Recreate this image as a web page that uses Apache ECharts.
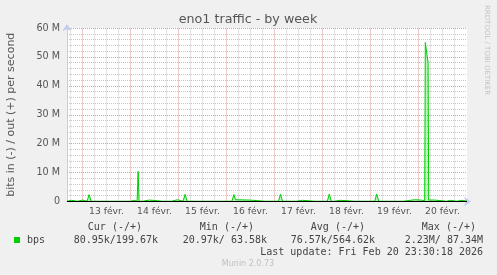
<!DOCTYPE html>
<html>
<head>
<meta charset="utf-8">
<script src="https://cdn.jsdelivr.net/npm/echarts@6/dist/echarts.min.js"></script>
<style>
html,body{margin:0;padding:0;background:#f0f0f0;}
#c{width:497px;height:275px;}
</style>
</head>
<body>
<div id="c"></div>
<script>
// ---- data (hours relative to 13 févr. 00:00, values in Mbit/s) ----
const hours = [-7.75,-7.0,-5.5,-5.0,-2.5,-2.0,0.0,0.5,2.3,3.3,4.3,7.0,8.0,9.0,12,13,14,18,19,20.5,24,26,26.5,27.3,27.8,28.3,30,33.5,34.5,40,44.5,45,47.5,48,50.3,51.3,52.3,57,58,59,66,67,68,74.7,75.7,76.5,83.5,84,91,91.5,92,98,99,100,107,107.5,110,110.5,116,117,118,122.4,123.4,124.4,126,126.5,129,129.5,136,137,138,146.1,147.1,148.1,153,154,155,160.5,161,166,169,171.1,171.4,172.8,173.1,176,176.5,182,182.5,184,184.5,187,187.5,190,190.5,192.2];
const outValues = [0.1,0.4,0.4,0.1,0.1,0.5,0.5,0.1,0.1,2.4,0.1,0.1,0.4,0.1,0.1,0.4,0.1,0.1,0.4,0.1,0.1,0.4,0.1,0.1,10.4,0.1,0.1,0.5,0.1,0.1,0.1,0.6,0.6,0.1,0.1,2.5,0.1,0.1,0.4,0.1,0.1,0.4,0.1,0.1,2.4,0.6,0.5,0.1,0.1,0.4,0.1,0.1,2.5,0.1,0.1,0.4,0.4,0.1,0.1,0.3,0.1,0.1,2.6,0.1,0.1,0.4,0.4,0.1,0.1,0.4,0.1,0.1,2.6,0.1,0.1,0.3,0.1,0.1,0.5,0.6,0.5,0.3,55,48,0.5,0.5,0.1,0.1,0.4,0.4,0.1,0.1,0.4,0.4,0.1,0.1];
const xMin = -7.75, xMax = 192.25;
const dayHours = [0,24,48,72,96,120,144,168];
const sixHours = [-6,6,12,18,30,36,42,54,60,66,78,84,90,102,108,114,126,132,138,150,156,162,174,180,186];
const labelHours = [12,36,60,84,108,132,156,180];
const dayLabels = ['13 févr.','14 févr.','15 févr.','16 févr.','17 févr.','18 févr.','19 févr.','20 févr.'];
const yTicks = [0,10,20,30,40,50,60];
const title = 'eno1 traffic - by week';
const yName = 'bits in (-) / out (+) per second';
const seriesName = 'bps';
const legendHeaders = ['Cur (-/+)','Min (-/+)','Avg (-/+)','Max (-/+)'];
const inStats = ['80.95k','20.97k','76.57k','2.23M'];
const outStats = ['199.67k','63.58k','564.62k','87.34M'];
const lastUpdate = 'Last update: Fri Feb 20 23:30:18 2026';
const footer = 'Munin 2.0.73';
const sideText = 'RRDTOOL / TOBI OETIKER';

// ---- chart ----
const chart = echarts.init(document.getElementById('c'), null, {renderer:'canvas'});
const GREEN = '#00cc00';
const RED = '#e49a9a';
const GRAY = '#c8c8c8';
const AXIS = '#c4ccee';
const F = 'DejaVu Sans';
const M = 'DejaVu Sans Mono';

const headerRight = [142,254,365,476];
const valueRight = [158,267,375,483];

const graphics = [
  {type:'text', x:248, y:20, style:{text:title, font:'12.7px "'+F+'"', fill:'#555', align:'center', verticalAlign:'middle'}},
  {type:'text', x:487, y:5, rotation:-Math.PI/2, style:{text:sideText, font:'7px "'+F+'"', fill:'#c4c4c4', align:'left', verticalAlign:'middle'}},
  {type:'rect', shape:{x:14, y:237, width:6, height:6}, style:{fill:GREEN}},
  {type:'text', x:27, y:240, style:{text:seriesName, font:'10px "'+M+'"', fill:'#444', align:'left', verticalAlign:'middle'}},
  {type:'text', x:483, y:252, style:{text:lastUpdate, font:'10px "'+M+'"', fill:'#444', align:'right', verticalAlign:'middle'}},
  {type:'text', x:248, y:264, style:{text:footer, font:'8px "'+F+'"', fill:'#c0c0c0', align:'center', verticalAlign:'middle'}}
];
legendHeaders.forEach((h,i)=>{
  graphics.push({type:'text', x:headerRight[i], y:227, style:{text:h, font:'10px "'+M+'"', fill:'#444', align:'right', verticalAlign:'middle'}});
  graphics.push({type:'text', x:valueRight[i], y:240, style:{text:inStats[i]+'/'+outStats[i].padStart(7,' '), font:'10px "'+M+'"', fill:'#444', align:'right', verticalAlign:'middle'}});
});

const lineData = hours.map((h,i)=>[h,outValues[i]]);

chart.setOption({
  backgroundColor:'#f0f0f0',
  animation:false,
  grid:{left:67, right:30, top:28, height:173.5, backgroundColor:'#ffffff', show:true, borderWidth:0, containLabel:false, outerBoundsMode:'none'},
  xAxis:{
    type:'value', min:xMin, max:xMax,
    axisLine:{show:true, onZero:false, lineStyle:{color:AXIS, width:1}, symbol:['none','arrow'], symbolSize:[7,7], symbolOffset:[0,4]},
    axisTick:{show:false},
    splitLine:{show:false},
    axisLabel:{customValues:labelHours, formatter:(v)=>{const k=labelHours.indexOf(v);return k>=0?dayLabels[k]:'';}, color:'#555', fontFamily:F, fontSize:9.2, margin:6}
  },
  yAxis:{
    type:'value', min:yTicks[0], max:yTicks[yTicks.length-1], interval:10,
    name:yName, nameLocation:'middle', nameRotate:90, nameGap:50,
    nameTextStyle:{color:'#555', fontFamily:F, fontSize:11},
    axisLine:{show:true, onZero:false, lineStyle:{color:AXIS, width:1}, symbol:['none','arrow'], symbolSize:[7,7], symbolOffset:[0,4]},
    axisTick:{show:false},
    axisLabel:{formatter:(v)=>v===0?'0':v+' M', color:'#555', fontFamily:F, fontSize:9.6, margin:7},
    splitLine:{show:true, lineStyle:{color:RED, type:[1,1], width:1}},
    minorTick:{show:false, splitNumber:5},
    minorSplitLine:{show:true, lineStyle:{color:GRAY, type:[1,1], width:1}}
  },
  graphic:graphics,
  series:[
    {
      type:'line', name:'grid', data:[], silent:true,
      markLine:{silent:true, z:1, symbol:['none','none'], label:{show:false},
        data: sixHours.map(h=>({xAxis:h, lineStyle:{color:GRAY, type:[1,1], width:1}}))
          .concat(dayHours.map(h=>({xAxis:h, lineStyle:{color:RED, type:[1,1], width:1}})))}
    },
    {
      type:'line', name:seriesName, data:lineData, z:3,
      symbol:'none', showSymbol:false,
      lineStyle:{color:GREEN, width:1},
      areaStyle:{color:'rgba(0,204,0,0.35)'},
      itemStyle:{color:GREEN}
    },
    {
      type:'line', name:'zero', data:[], silent:true,
      markLine:{silent:true, z:10, symbol:['none','none'], label:{show:false},
        data:[{yAxis:0, lineStyle:{color:'#000', type:'solid', width:1}}]}
    }
  ]
});
</script>
</body>
</html>
